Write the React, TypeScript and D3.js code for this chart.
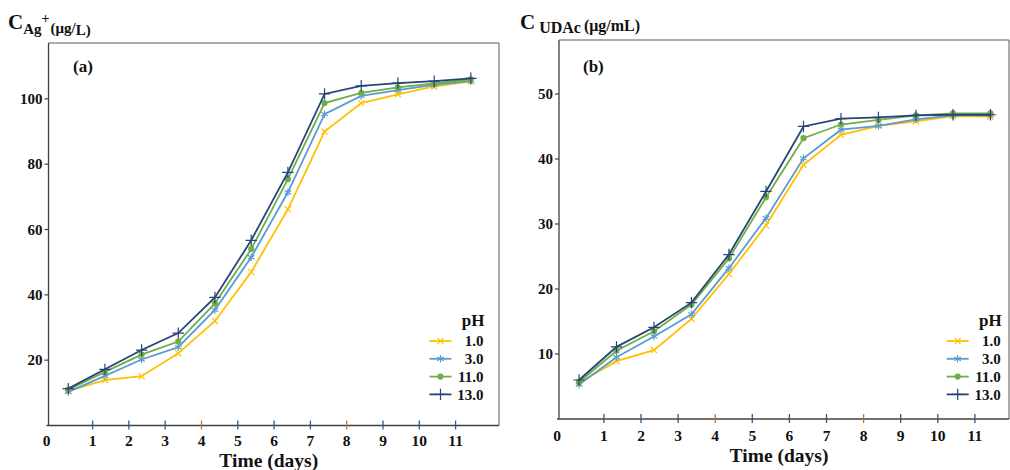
import React from "react";
import * as d3 from "d3";

// ---- data ----
const days = [0.33, 1.34, 2.35, 3.36, 4.37, 5.37, 6.38, 7.39, 8.4, 9.41, 10.41, 11.42];
const xTickValues = [1, 2, 3, 4, 5, 6, 7, 8, 9, 10, 11];
const agTicks = [20, 40, 60, 80, 100];
const udacTicks = [10, 20, 30, 40, 50];
const phLabels = ["1.0", "3.0", "11.0", "13.0"];

const agPH1 = [10.6, 13.9, 15.1, 22.1, 32, 47, 66.2, 90, 98.7, 101.4, 103.8, 105.3];
const agPH3 = [10.3, 15.2, 20.2, 24, 35.4, 51.5, 71.4, 95.3, 100.9, 102.7, 104.3, 105.5];
const agPH11 = [11, 16.4, 21.7, 25.7, 37.4, 54, 75.4, 98.7, 101.8, 103.5, 104.7, 106];
const agPH13 = [11.3, 17.2, 23.1, 28.3, 39.2, 56.7, 77.5, 101.5, 104, 104.8, 105.4, 106.3];

const udPH1 = [5.6, 8.9, 10.6, 15.4, 22.3, 29.8, 39.1, 43.7, 45.1, 45.8, 46.6, 46.5];
const udPH3 = [5.3, 9.5, 12.7, 16.1, 23.2, 30.9, 40.1, 44.5, 45.1, 46.1, 46.7, 46.7];
const udPH11 = [5.7, 10.5, 13.5, 17.6, 24.7, 34.1, 43.2, 45.3, 46, 46.7, 47, 47];
const udPH13 = [6.0, 11.1, 14.1, 17.9, 25.3, 35, 45, 46.2, 46.4, 46.7, 46.8, 46.8];

// ---- styles ----
const COLORS = ["#FFC000", "#5B9BD5", "#70AD47", "#264478"];
const SYMBOLS = [d3.symbolTimes, d3.symbolAsterisk, d3.symbolCircle, d3.symbolPlus];
const SYM_SIZE = [26, 40, 30, 44];
const FONT = "Liberation Serif, serif";
const AXIS = "#404040";

type Panel = {
  series: number[][];
  yTicks: number[];
  x0: number;
  x11: number;
  left: number;
  right: number;
  top: number;
  zeroY: number;
  yMax: number;
  legendX: number;
  legendY: number;
  tag: string;
  tagX: number;
  labelBase: number;
};

function Marker({ i, x, y }: { i: number; x: number; y: number }) {
  const p = d3.symbol().type(SYMBOLS[i]).size(SYM_SIZE[i])();
  const filled = i === 2;
  return (
    <path
      d={p || ""}
      transform={`translate(${x},${y})`}
      fill={filled ? COLORS[i] : "none"}
      stroke={COLORS[i]}
      strokeWidth={filled ? 0 : 1.2}
    />
  );
}

function ChartPanel({ p }: { p: Panel }) {
  const x = d3.scaleLinear().domain([0, 11]).range([p.x0, p.x11]);
  const y = d3.scaleLinear().domain([0, p.yMax]).range([p.zeroY, p.top]);
  const line = d3
    .line<number>()
    .x((_, k) => x(days[k]))
    .y((v) => y(v));
  return (
    <g>
      <path
        d={`M${p.left},${p.top}H${p.right}V${p.zeroY}`}
        fill="none"
        stroke="#595959"
        strokeWidth={1}
      />
      <line x1={p.left} x2={p.left} y1={p.top} y2={p.zeroY} stroke={AXIS} strokeWidth={1.3} />
      <line x1={p.left - 2} x2={p.right} y1={p.zeroY} y2={p.zeroY} stroke={AXIS} strokeWidth={1.3} />
      {p.yTicks.map((t) => (
        <g key={t}>
          <line x1={p.left - 4} x2={p.left} y1={y(t)} y2={y(t)} stroke={AXIS} strokeWidth={1.2} />
          <text
            x={p.left - 6}
            y={y(t)}
            dy="0.35em"
            textAnchor="end"
            fontFamily={FONT}
            fontWeight="bold"
            fontSize={15}
            fill="#111"
          >
            {t}
          </text>
        </g>
      ))}
      {xTickValues.map((t) => (
        <g key={t}>
          <line
            x1={x(t)}
            x2={x(t)}
            y1={p.zeroY - 5}
            y2={p.zeroY + 4}
            stroke={t % 4 === 0 ? "#B8783A" : "#2E5C8A"}
            strokeWidth={1.3}
          />
          <text
            x={x(t)}
            y={p.labelBase}
            textAnchor="middle"
            fontFamily={FONT}
            fontWeight="bold"
            fontSize={15.5}
            fill="#111"
          >
            {t}
          </text>
        </g>
      ))}
      <text
        x={p.left - 2}
        y={p.labelBase}
        textAnchor="middle"
        fontFamily={FONT}
        fontWeight="bold"
        fontSize={15.5}
        fill="#111"
      >
        0
      </text>
      <text
        x={(p.left + p.right) / 2 - 5}
        y={p.labelBase + 21}
        textAnchor="middle"
        fontFamily={FONT}
        fontWeight="bold"
        fontSize={19.5}
        fill="#111"
      >
        Time (days)
      </text>
      <text x={p.tagX} y={72} fontFamily={FONT} fontWeight="bold" fontSize={17} fill="#111">
        {p.tag}
      </text>
      {p.series.map((s, i) => (
        <g key={i}>
          <path d={line(s) || ""} fill="none" stroke={COLORS[i]} strokeWidth={1.8} />
          {s.map((v, k) => (
            <Marker key={k} i={i} x={x(days[k])} y={y(v)} />
          ))}
        </g>
      ))}
      <text
        x={p.legendX + 55}
        y={p.legendY}
        textAnchor="end"
        fontFamily={FONT}
        fontWeight="bold"
        fontSize={17}
        fill="#111"
      >
        pH
      </text>
      {phLabels.map((lab, i) => {
        const ly = p.legendY + 15 + i * 17.8;
        return (
          <g key={lab}>
            <line x1={p.legendX} x2={p.legendX + 22} y1={ly} y2={ly} stroke={COLORS[i]} strokeWidth={1.8} />
            <Marker i={i} x={p.legendX + 11} y={ly} />
            <text
              x={p.legendX + 54}
              y={ly}
              dy="0.35em"
              textAnchor="end"
              fontFamily={FONT}
              fontWeight="bold"
              fontSize={15}
              fill="#111"
            >
              {lab}
            </text>
          </g>
        );
      })}
    </g>
  );
}

const panelA: Panel = {
  series: [agPH1, agPH3, agPH11, agPH13],
  yTicks: agTicks,
  x0: 56.3,
  x11: 455.6,
  left: 48.5,
  right: 499,
  top: 43,
  zeroY: 425.5,
  yMax: 117.1,
  legendX: 429.5,
  legendY: 326,
  tag: "(a)",
  tagX: 73,
  labelBase: 446,
};

const panelB: Panel = {
  series: [udPH1, udPH3, udPH11, udPH13],
  yTicks: udacTicks,
  x0: 566.8,
  x11: 974.9,
  left: 559,
  right: 1009,
  top: 40,
  zeroY: 419,
  yMax: 58.3,
  legendX: 946.7,
  legendY: 326,
  tag: "(b)",
  tagX: 583,
  labelBase: 441,
};

export default function App() {
  return (
    <svg
      width={1010}
      height={470}
      style={{ position: "absolute", left: 0, top: 0, background: "#fff" }}
    >
      <text x={8} y={29} fontFamily={FONT} fontWeight="bold" fill="#111">
        <tspan fontSize={21}>C</tspan>
        <tspan fontSize={15} dy={5}>Ag</tspan>
        <tspan fontSize={14} dy={-11}>+</tspan>
        <tspan fontSize={15} dx={1} dy={10}>(μg/</tspan>
        <tspan fontSize={15} dy={2}>L)</tspan>
      </text>
      <text x={520} y={29} fontFamily={FONT} fontWeight="bold" fill="#111">
        <tspan fontSize={21}>C</tspan>
        <tspan fontSize={16} dx={4} dy={4}>UDAc</tspan>
        <tspan fontSize={16} dx={3} dy={-2}>(μg/mL)</tspan>
      </text>
      <ChartPanel p={panelA} />
      <ChartPanel p={panelB} />
    </svg>
  );
}
